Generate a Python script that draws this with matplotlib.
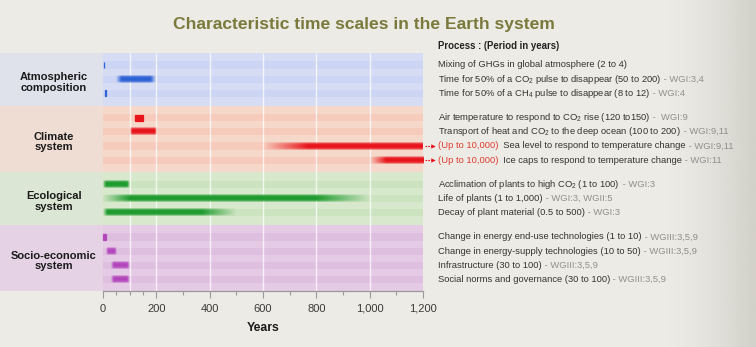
import numpy as np
import matplotlib
matplotlib.use("Agg")
import matplotlib.pyplot as plt
from matplotlib import transforms
from matplotlib.colors import to_rgb

plt.rcParams["font.family"] = ["Liberation Sans", "DejaVu Sans"]
plt.rcParams["mathtext.fontset"] = "custom"
plt.rcParams["mathtext.rm"] = "Liberation Sans"
plt.rcParams["mathtext.default"] = "regular"

# ---- data -------------------------------------------------------------
groups = ["Atmospheric\ncomposition", "Climate\nsystem",
          "Ecological\nsystem", "Socio-economic\nsystem"]
group_sizes = [3, 4, 3, 4]

processes = [
    "Mixing of GHGs in global atmosphere ({} to {})",
    "Time for 50% of a CO$_2$ pulse to disappear ({} to {})",
    "Time for 50% of a CH$_4$ pulse to disappear ({} to {})",
    "Air temperature to respond to CO$_2$ rise ({} to{})",
    "Transport of heat and CO$_2$ to the deep ocean ({} to {})",
    "  Sea level to respond to temperature change",
    "  Ice caps to respond to temperature change",
    "Acclimation of plants to high CO$_2$ ({} to {})",
    "Life of plants ({} to {})",
    "Decay of plant material ({} to {})",
    "Change in energy end-use technologies ({} to {})",
    "Change in energy-supply technologies ({} to {})",
    "Infrastructure ({} to {})",
    "Social norms and governance ({} to {})",
]
refs = ["", " - WGI:3,4", " - WGI:4", " -  WGI:9", " - WGI:9,11",
        " - WGI:9,11", " - WGI:11", " - WGI:3", " - WGI:3, WGII:5",
        " - WGI:3", " - WGIII:3,5,9", " - WGIII:3,5,9", " - WGIII:3,5,9",
        " - WGIII:3,5,9"]

# period of each process in years
low = [2, 50, 8, 120, 100, 600, 1000, 1, 1, 0.5, 1, 10, 30, 30]
high = [4, 200, 12, 150, 200, 10000, 10000, 100, 1000, 500, 10, 50, 100, 100]
open_ended = [False, False, False, False, False, True, True,
              False, False, False, False, False, False, False]

x_ticks = [0, 200, 400, 600, 800, 1000, 1200]
x_tick_labels = ["0", "200", "400", "600", "800", "1,000", "1,200"]
x_minor = [50, 100, 150, 300, 500, 700, 900, 1100]
grid_x = [100, 200, 400, 600, 800, 1000]

# ---- style ------------------------------------------------------------
bar_colors = ["#2d62d6", "#e8141c", "#1e9b2e", "#b446bc"]
band_colors = ["#d5dcf3", "#f6d8cb", "#d7e8cc", "#e5cae6"]
stripe_colors = ["#cdd5f4", "#f6cbbb", "#cce3c0", "#debfe0"]
label_colors = ["#dfe2eb", "#efdcd2", "#dce6d4", "#e5d3e5"]
bg = "#ecebe5"
fade_in = [0, 20, 0, 0, 8, 170, 60, 10, 100, 15, 0, 8, 10, 10]
fade_out = [0, 20, 0, 0, 8, 0, 0, 10, 200, 130, 0, 8, 10, 10]

W, H = 756, 347
fig = plt.figure(figsize=(W / 100, H / 100), dpi=100)
fig.patch.set_facecolor(bg)

# slightly darker paper towards the right edge
shade = fig.add_axes([0, 0, 1, 1], zorder=-10)
shade.axis("off")
grad = np.clip((np.linspace(0, 1, 300) - 0.88) / 0.12, 0, 1) ** 1.5
paper = np.zeros((1, 300, 4))
paper[..., :3] = to_rgb("#cfcec6")
paper[..., 3] = grad * 0.9
shade.imshow(paper, extent=(0, 1, 0, 1), aspect="auto",
             interpolation="bilinear")
shade.set_xlim(0, 1)
shade.set_ylim(0, 1)

x_left_px, x0_px, x1_px = 0, 103, 423
y_top, y_bot = 53, 291
ax = fig.add_axes([x_left_px / W, (H - y_bot) / H,
                   (x1_px - x_left_px) / W, (y_bot - y_top) / H])
yr_per_px = 1200 / (x1_px - x0_px)
xmin = -(x0_px - x_left_px) * yr_per_px
ax.patch.set_alpha(0)

# row layout (pixel-like units, increasing downward)
step, gap = 14.2, 10.0
rows, y = [], 65.0
group_of = []
for g, n in enumerate(group_sizes):
    for i in range(n):
        rows.append(y)
        group_of.append(g)
        y += step
    y += gap
rows = np.array(rows)

# band edges
edges = [y_top]
idx = np.cumsum(group_sizes)
for k in idx[:-1]:
    edges.append((rows[k - 1] + rows[k]) / 2)
edges.append(y_bot)

for g in range(len(groups)):
    ax.fill_between([xmin, 0], edges[g], edges[g + 1], color=label_colors[g],
                    lw=0, zorder=0)
    ax.fill_between([0, 1200], edges[g], edges[g + 1], color=band_colors[g],
                    lw=0, zorder=0)
    ax.text(xmin / 2 + 8, (edges[g] + edges[g + 1]) / 2 + 3, groups[g],
            ha="center", va="center", fontsize=8, fontweight="bold",
            color="#1a1a1a", linespacing=1.1)

for r, g in zip(rows, group_of):
    ax.fill_between([0, 1200], r - 3.6, r + 3.6, color=stripe_colors[g],
                    lw=0, zorder=0.5)

ax.vlines(grid_x, y_top, y_bot, color="white", lw=1.0, alpha=0.75, zorder=1)

# bars
bar_h = 6.0
for i, (lo, hi) in enumerate(zip(low, high)):
    col = bar_colors[group_of[i]]
    r = rows[i]
    right = min(hi, 1200)
    if fade_in[i] == 0 and fade_out[i] == 0:
        ax.barh(r, right - lo, left=lo, height=bar_h, color=col,
                edgecolor=col, lw=0.9, zorder=3)
        continue
    xs = np.linspace(lo, right, 400)
    a = np.ones_like(xs)
    if fade_in[i] > 0:
        a = np.minimum(a, np.clip((xs - lo) / fade_in[i], 0, 1))
    if fade_out[i] > 0:
        a = np.minimum(a, np.clip((hi - xs) / fade_out[i], 0, 1))
    vert = np.array([0.35, 0.85, 1, 1, 1, 0.85, 0.35])
    rgba = np.zeros((len(vert), len(xs), 4))
    rgba[..., :3] = to_rgb(col)
    rgba[..., 3] = vert[:, None] * a[None, :]
    ax.imshow(rgba, extent=(lo, right, r + bar_h / 2 + 0.6, r - bar_h / 2 - 0.6),
              aspect="auto", interpolation="bilinear", zorder=3)

ax.set_xlim(xmin, 1200)
ax.set_ylim(y_bot, y_top)
ax.set_aspect("auto")

for s in ["top", "left", "right"]:
    ax.spines[s].set_visible(False)
ax.spines["bottom"].set_bounds(0, 1200)
ax.spines["bottom"].set_color("#9a9a9a")
ax.spines["bottom"].set_linewidth(0.9)
ax.spines["bottom"].set_zorder(5)
ax.set_yticks([])
ax.set_xticks(x_ticks)
ax.set_xticklabels(x_tick_labels)
ax.set_xticks(x_minor, minor=True)
ax.tick_params(axis="x", which="major", length=5, width=0.8, color="#9a9a9a",
               labelsize=8, labelcolor="#3a3a3a", pad=4)
ax.tick_params(axis="x", which="minor", length=3, width=0.8, color="#9a9a9a")

fig.text((x0_px + x1_px) / 2 / W, 1 - 328 / H, "Years", ha="center",
         va="center", fontsize=8.8, fontweight="bold", color="#1a1a1a")
fig.text(364 / W, 1 - 24 / H, "Characteristic time scales in the Earth system",
         ha="center", va="center", fontsize=12.6, fontweight="bold",
         color="#7b7a3c")

# right-hand process list
trans = transforms.blended_transform_factory(fig.transFigure, ax.transData)
renderer = fig.canvas.get_renderer()
tx = 438 / W
fs = 6.75
ax.text(tx, 47 + 2.4, "Process : (Period in years)", transform=trans,
        fontsize=fs + 0.2, fontweight="bold", color="#222222", va="baseline")


def fmt(v):
    return f"{v:,}" if float(v).is_integer() else f"{v}"


red_txt = "#e23a2e"
for i, r in enumerate(rows):
    pieces = []
    if open_ended[i]:
        pieces.append((f"(Up to {fmt(high[i])})", red_txt))
        pieces.append((processes[i], "#333333"))
    else:
        pieces.append((processes[i].format(fmt(low[i]), fmt(high[i])), "#333333"))
    if refs[i]:
        pieces.append((refs[i], "#8e8e8e"))
    x = tx
    for s, c in pieces:
        t = ax.text(x, r + 2.4, s, transform=trans, fontsize=fs, color=c,
                    va="baseline", ha="left")
        bb = t.get_window_extent(renderer)
        x = bb.x1 / W
    if open_ended[i]:
        col = bar_colors[group_of[i]]
        ax.plot([x1_px / W + 0.002, 432 / W], [r, r], transform=trans,
                color=col, lw=0.8, ls=(0, (1.5, 1)), clip_on=False)
        ax.plot([433.5 / W], [r], transform=trans, marker=">", ms=3.2,
                color=col, clip_on=False, mew=0)

fig.savefig("out.png", dpi=100, facecolor=bg)
